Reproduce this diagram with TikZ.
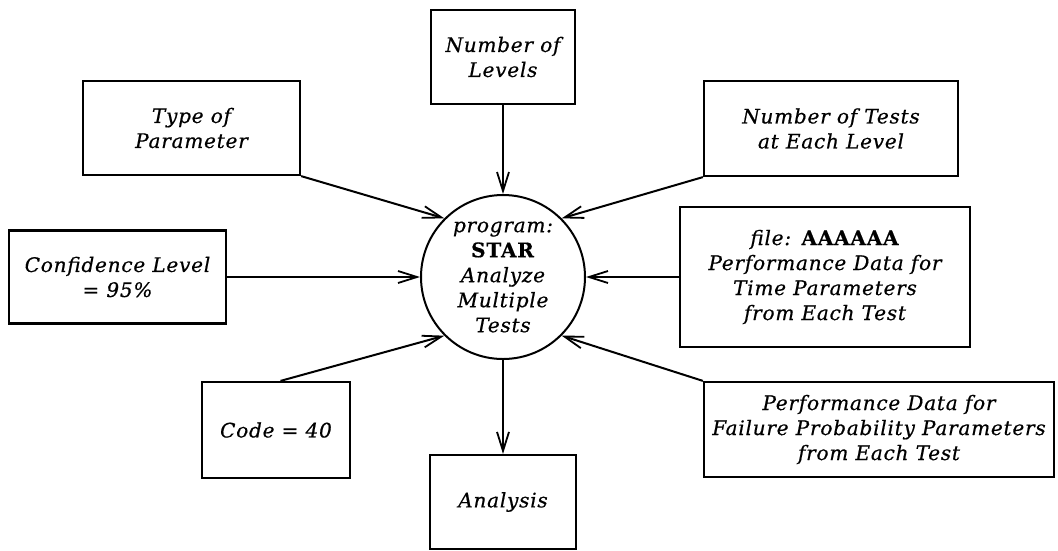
\documentclass[tikz,border=0pt]{standalone}
\usepackage{fontspec}
\setmainfont{DejaVu Serif}[LetterSpace=4, FakeBold=0.6]
\usetikzlibrary{arrows.meta,calc}
\newcommand\labelfont{\fontsize{20}{25}\selectfont\itshape}
\tikzset{
  box/.style={draw, line width=2.2pt, align=center, inner sep=0pt, font=\labelfont},
  hub/.style={draw, circle, line width=2pt, minimum size=164pt, inner sep=0pt,
              align=center, font=\labelfont},
  feed/.style={line width=2pt,
               -{Straight Barb[length=19pt,width=12pt,line width=1.8pt]}},
}
\begin{document}
\begin{tikzpicture}[x=1pt,y=-1pt]
  \fill[white] (0,0) rectangle (1058,550);
  \useasboundingbox (0,0) rectangle (1058,550);

  % central program
  \node[hub] (star) at (503,277)
    {program:\\ \textup{\textbf{STAR}}\\ Analyze\\ Multiple\\ Tests};

  % inputs
  \node[box, minimum width=144pt, minimum height=94pt] (lev) at (503,57)
    {Number of\\ Levels};
  \node[box, minimum width=217pt, minimum height=94pt] (type) at (191.5,128)
    {Type of\\ Parameter};
  \node[box, minimum width=254pt, minimum height=95pt] (tests) at (831,128.5)
    {Number of Tests\\ at Each Level};
  \node[box, minimum width=217pt, minimum height=93pt] (conf) at (117.5,277)
    {Confidence Level\\ = 95\%};
  \node[box, minimum width=290pt, minimum height=140pt] (file) at (825,277)
    {file: \textup{\textbf{AAAAAA}}\\ Performance Data for\\ Time Parameters\\ from Each Test};
  \node[box, minimum width=148pt, minimum height=96pt] (code) at (276,430)
    {Code = 40};
  \node[box, minimum width=350pt, minimum height=95pt] (fail) at (879,429.5)
    {Performance Data for\\ Failure Probability Parameters\\ from Each Test};

  % output
  \node[box, minimum width=146pt, minimum height=94pt] (ana) at (503,502)
    {Analysis};

  % connectors
  \draw[feed] (lev.south) -- (star.north);
  \draw[feed] (type.south east) -- (star.135);
  \draw[feed] (tests.south west) -- (star.45);
  \draw[feed] (conf.east) -- (star.west);
  \draw[feed] (file.west) -- (star.east);
  \draw[feed] ($(code.north west)!0.53!(code.north east)$) -- (star.225);
  \draw[feed] (fail.north west) -- (star.315);
  \draw[feed] (star.south) -- (ana.north);
\end{tikzpicture}
\end{document}
